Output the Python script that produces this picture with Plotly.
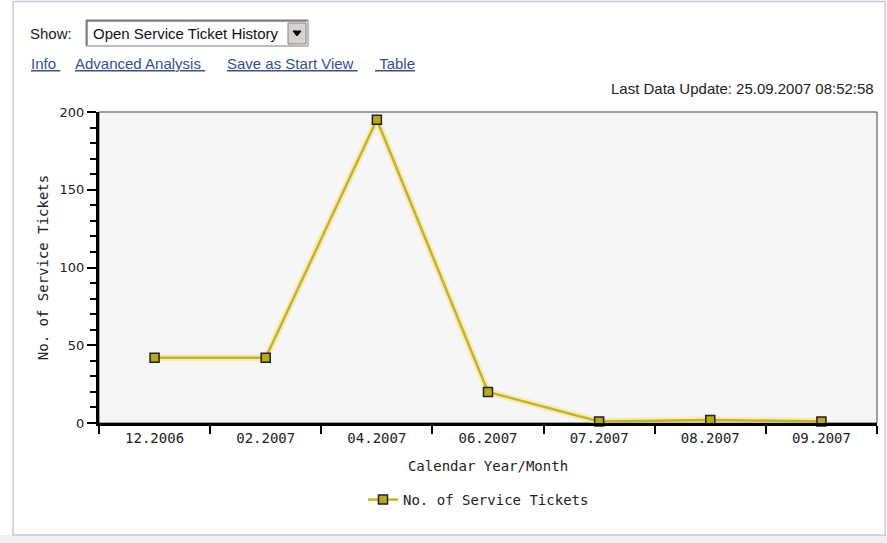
import plotly.graph_objects as go

# Monthly count of open service tickets
months = ["12.2006", "02.2007", "04.2007", "06.2007", "07.2007", "08.2007", "09.2007"]
tickets = [42, 42, 195, 20, 1, 2, 1]

y_ticks = [0, 50, 100, 150, 200]

W, H = 887, 543
L, R, T, B = 99, 10, 112, 120
PW, PH = W - L - R, H - T - B


def px(x):
    return (x - L) / PW


def py(y):
    return (H - B - y) / PH


SANS = "Liberation Sans, Arial, sans-serif"
MONO = "DejaVu Sans Mono, monospace"
LINK = "#36508c"

fig = go.Figure()

# soft halo under the series line
fig.add_trace(go.Scatter(
    x=months, y=tickets, mode="lines",
    line=dict(color="rgba(240,228,140,0.55)", width=7),
    hoverinfo="skip", showlegend=False, cliponaxis=False,
))
fig.add_trace(go.Scatter(
    x=months, y=tickets, mode="lines+markers",
    name="No. of Service Tickets",
    line=dict(color="#c6b22a", width=2.5),
    marker=dict(symbol="square", size=9, color="#b8a81c",
                line=dict(color="#222222", width=1.5)),
    cliponaxis=False,
))

shapes = []
# page frame and bottom strip
shapes.append(dict(type="rect", xref="paper", yref="paper",
                   x0=px(0), x1=px(W), y0=py(543), y1=py(535),
                   fillcolor="#efefef", line=dict(width=0), layer="below"))
shapes.append(dict(type="rect", xref="paper", yref="paper",
                   x0=px(13), x1=px(885), y0=py(535), y1=py(1.5),
                   line=dict(color="#c3cbd9", width=1.5), layer="below"))
# thin frame around the plot area
shapes.append(dict(type="rect", xref="paper", yref="paper",
                   x0=0, x1=1, y0=0, y1=1,
                   line=dict(color="#444444", width=1), layer="below"))
# dropdown box
shapes.append(dict(type="rect", xref="paper", yref="paper",
                   x0=px(86), x1=px(308), y0=py(46), y1=py(20),
                   fillcolor="white", line=dict(color="#7a7a7a", width=1)))
shapes.append(dict(type="path", xref="paper", yref="paper",
                   path=f"M {px(87)} {py(45)} L {px(87)} {py(21)} L {px(307)} {py(21)}",
                   line=dict(color="#404040", width=1)))
shapes.append(dict(type="rect", xref="paper", yref="paper",
                   x0=px(288), x1=px(306), y0=py(44), y1=py(23),
                   fillcolor="#d6d3ce", line=dict(color="#808080", width=1)))
shapes.append(dict(type="path", xref="paper", yref="paper",
                   path=f"M {px(293)} {py(31)} L {px(301)} {py(31)} L {px(297)} {py(36)} Z",
                   fillcolor="black", line=dict(color="black", width=1)))

annotations = [
    dict(text="Show:", x=px(28), y=py(33), xanchor="left", yanchor="middle",
         font=dict(family=SANS, size=15, color="#222222")),
    dict(text="Open Service Ticket History", x=px(91), y=py(33), xanchor="left",
         yanchor="middle", font=dict(family=SANS, size=15, color="#111111")),
    dict(text="<u>Info\u00a0</u>", x=px(29), y=py(64), xanchor="left", yanchor="middle",
         font=dict(family=SANS, size=15, color=LINK)),
    dict(text="<u>Advanced Analysis\u00a0</u>", x=px(73), y=py(64), xanchor="left",
         yanchor="middle", font=dict(family=SANS, size=15, color=LINK)),
    dict(text="<u>Save as Start View\u00a0</u>", x=px(225), y=py(64), xanchor="left",
         yanchor="middle", font=dict(family=SANS, size=15, color=LINK)),
    dict(text="<u>\u00a0Table</u>", x=px(373), y=py(64), xanchor="left",
         yanchor="middle", font=dict(family=SANS, size=15, color=LINK)),
    dict(text="Last Data Update: 25.09.2007 08:52:58", x=px(876), y=py(88),
         xanchor="right", yanchor="middle",
         font=dict(family=SANS, size=15, color="#222222")),
]
for a in annotations:
    a.update(xref="paper", yref="paper", showarrow=False)

fig.update_layout(
    width=W, height=H,
    margin=dict(l=L, r=R, t=T, b=B, pad=0),
    paper_bgcolor="white",
    plot_bgcolor="#f6f6f6",
    shapes=shapes,
    annotations=annotations,
    showlegend=True,
    legend=dict(orientation="h", x=px(363), y=py(500), xanchor="left",
                yanchor="middle", bgcolor="rgba(0,0,0,0)",
                font=dict(family=MONO, size=14, color="#222222")),
    xaxis=dict(
        type="category", range=[-0.5, len(months) - 0.5],
        showline=True, linecolor="black", linewidth=3,
        ticks="outside", tickson="boundaries", ticklen=8, tickwidth=2,
        tickcolor="black", showgrid=False, zeroline=False,
        tickfont=dict(family=MONO, size=14, color="#222222"),
        title=dict(text="Calendar Year/Month", standoff=17,
                   font=dict(family=MONO, size=14, color="#222222")),
    ),
    yaxis=dict(
        range=[0, 200], tickvals=y_ticks,
        showline=True, linecolor="black", linewidth=3,
        ticks="outside", ticklen=9, tickwidth=2, tickcolor="black",
        minor=dict(dtick=10, ticks="outside", ticklen=6, tickwidth=2,
                   tickcolor="black", showgrid=False),
        showgrid=False, zeroline=False,
        tickfont=dict(family="DejaVu Sans, Verdana, sans-serif", size=13, color="#222222"),
        title=dict(text="No. of Service Tickets", standoff=8,
                   font=dict(family=MONO, size=14, color="#222222")),
    ),
)

fig.write_html("out.html")
